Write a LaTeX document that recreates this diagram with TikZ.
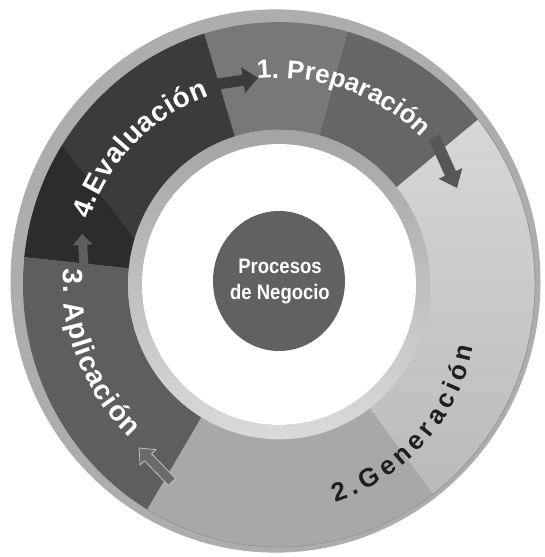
\documentclass[tikz,border=0pt]{standalone}
\usepackage{fontspec}
\usetikzlibrary{decorations.text,calc}
\newfontfamily\arialf{Liberation Sans}
\newfontfamily\narrowf[FakeStretch=0.88]{Liberation Sans}
\definecolor{border}{HTML}{ADADAD}
\definecolor{prepA}{HTML}{787878}
\definecolor{prepB}{HTML}{666666}
\definecolor{evalA}{HTML}{3B3B3B}
\definecolor{evalB}{HTML}{2C2C2C}
\definecolor{aplic}{HTML}{5E5E5E}
\definecolor{genA}{HTML}{A8A8A8}
\definecolor{genT}{HTML}{D7D7D7}
\definecolor{genB}{HTML}{BABABA}
\definecolor{innT}{HTML}{A4A4A4}
\definecolor{innB}{HTML}{DADADA}
\definecolor{core}{HTML}{616161}
\definecolor{genTxt}{HTML}{1E1E1E}
\newcommand\ringtxt[1]{\arialf\bfseries\fontsize{#1}{#1}\selectfont}
% block arrow: [options]{tail}{tip}{shaft half}{head half}{head length}
\newcommand\blockarr[6][]{%
  \coordinate (bah) at ($(#3)!#6!(#2)$);
  \filldraw[#1] ($(#2)!#4!90:(#3)$) -- ($(bah)!#4!90:(#3)$) -- ($(bah)!#5!90:(#3)$) -- (#3)
    -- ($(bah)!#5!-90:(#3)$) -- ($(bah)!#4!-90:(#3)$) -- ($(#2)!#4!-90:(#3)$) -- cycle;}
% ring sector: [path options]{a1}{a2}{r in}{r out}
\newcommand\ringsec[5]{\path[#1] (#2:#5) arc[start angle=#2, end angle=#3, radius=#5]
  -- (#3:#4) arc[start angle=#3, end angle=#2, radius=#4] -- cycle;}
\begin{document}
\begin{tikzpicture}[x=1pt,y=1pt]
\useasboundingbox[fill=white] (0,0) rectangle (545,557);
\coordinate (C) at (277,275);
\coordinate (CG) at (274,248.6);
% outer border (slightly offset up-left, as in the tilted original)
\begin{scope}[shift={(275.5,276)}, yscale=1.025]
  \fill[border] (0,0) circle[radius=265];
\end{scope}
\begin{scope}[shift={(279,272.5)}, yscale=1.025]
  % Generación
  \ringsec{fill=genA}{239}{399}{151}{256}
  \ringsec{shade, top color=genT, bottom color=genB}{-53}{39}{151}{256}
  \draw[line width=0.9pt, gray!80] (239:256) arc[start angle=239, end angle=399, radius=256];
  % Preparación
  \ringsec{fill=prepB}{39}{74.5}{151}{256}
  \ringsec{fill=prepA}{74.5}{107}{151}{256}
  % Evaluación
  \ringsec{fill=evalA}{107}{174}{151}{256}
  \fill[evalB] (148:256) -- (163:151) arc[start angle=163, end angle=174, radius=151]
     -- (174:256) arc[start angle=174, end angle=148, radius=256] -- cycle;
  % Aplicación
  \ringsec{fill=aplic}{174}{239}{151}{256}
  % inner light ring and hole
  \shade[top color=innT, bottom color=innB, even odd rule] (0,0) circle[radius=151] (0,0) circle[radius=137];
  \fill[white] (0,0) circle[radius=137];
\end{scope}

% arrows between stages
\coordinate (a1s) at (205,471); \coordinate (a1t) at (258,479);
\coordinate (a2s) at (434,420); \coordinate (a2t) at (457,369);
\coordinate (a3s) at (172,75);  \coordinate (a3t) at (139,109);
\coordinate (a4s) at (84,291);  \coordinate (a4t) at (82,323);
\blockarr[fill=evalA, draw=none]{a1s}{a1t}{5.5pt}{13pt}{15pt}
\blockarr[fill=black!66, draw=none]{a2s}{a2t}{6pt}{13pt}{16pt}
\blockarr[fill=black!58, draw=black!25, line width=0.8pt]{a3s}{a3t}{5pt}{11pt}{13pt}
\blockarr[fill=aplic, draw=none]{a4s}{a4t}{4.5pt}{10pt}{11pt}

% stage titles along the ring
\path[decorate, decoration={text along path, text align={fit to path},
  text={|\ringtxt{26}\color{white}|1. Preparación}}]
  ([shift={(95.5:204)}]C) arc[start angle=95.5, end angle=45, radius=204];
\path[decorate, decoration={text along path, text align={fit to path},
  text={|\ringtxt{28}\color{white}|4.Evaluación}}]
  ([shift={(161.5:198)}]C) arc[start angle=161.5, end angle=110, radius=198];
\path[decorate, decoration={text along path, text align={fit to path},
  text={|\ringtxt{28}\color{white}|3. Aplicación}}]
  ([shift={(176.5:214)}]C) arc[start angle=176.5, end angle=226.5, radius=214];
\path[decorate, decoration={text along path, text align={fit to path},
  text={|\ringtxt{26}\color{genTxt}|2.Generación}}]
  ([shift={(-72.4:203)}]CG) arc[start angle=-72.4, end angle=-11.1, radius=203];

% centre
\fill[core] (279,276) ellipse[x radius=66, y radius=70];
\node[text=white, align=center, font=\narrowf\bfseries\fontsize{21}{26}\selectfont] (proc) at (280,275) {Procesos\\de Negocio};
\end{tikzpicture}
\end{document}
